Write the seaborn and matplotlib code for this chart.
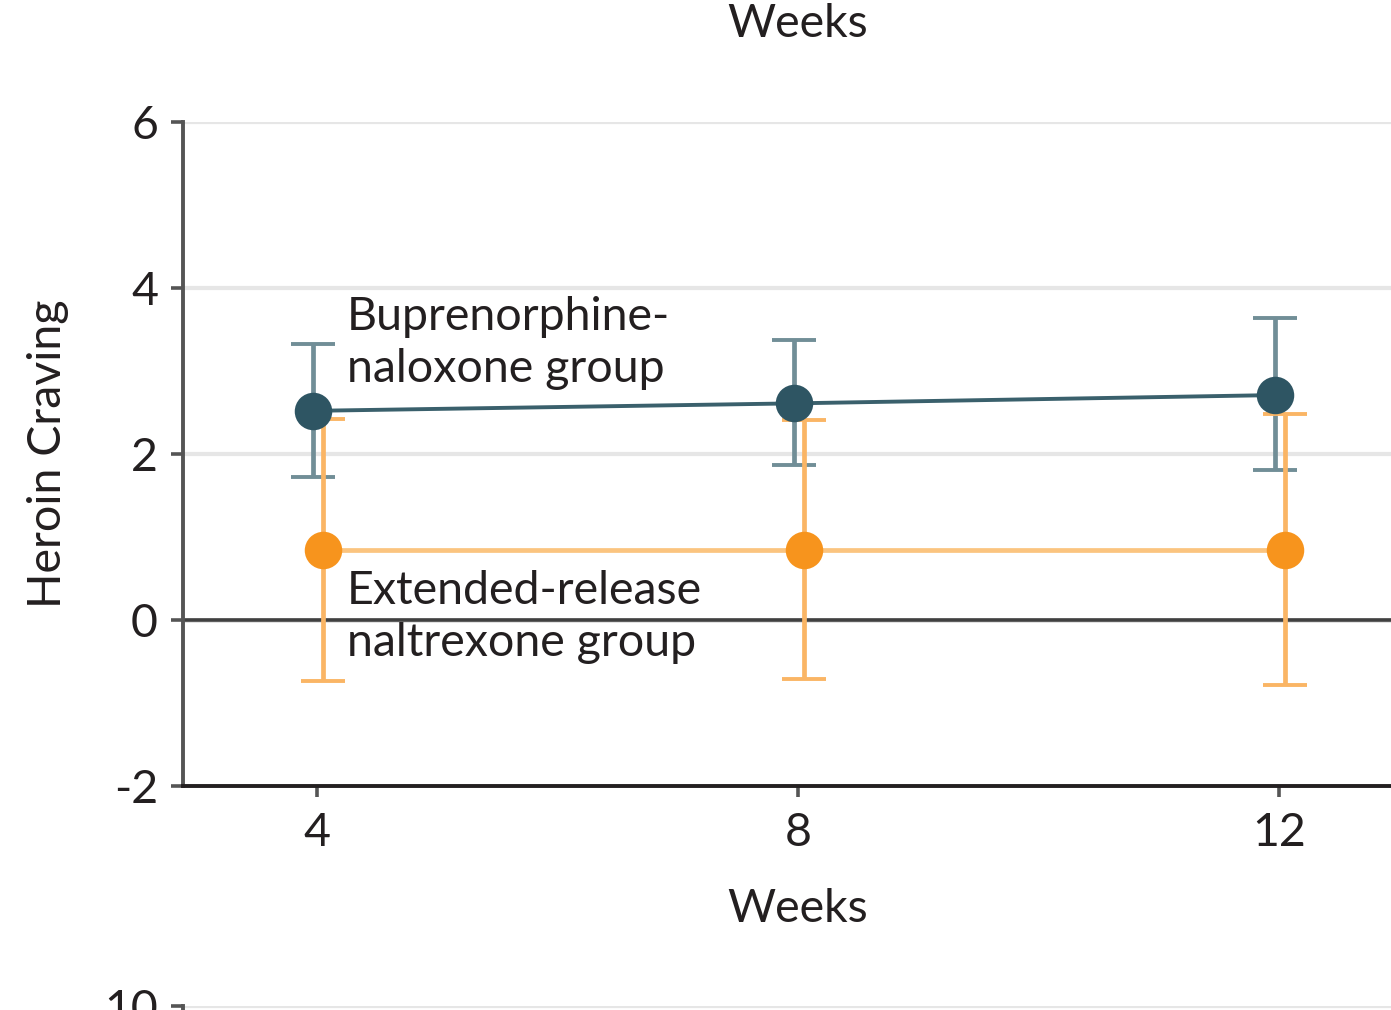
import matplotlib
matplotlib.use("Agg")
import matplotlib.pyplot as plt
import seaborn as sns
import pandas as pd
import numpy as np

# ---- data ----
weeks = [4, 8, 12]
bup_mean = [2.52, 2.61, 2.71]
bup_low = [1.72, 1.87, 1.81]
bup_high = [3.32, 3.37, 3.64]
xr_mean = [0.84, 0.84, 0.84]
xr_low = [-0.73, -0.71, -0.78]
xr_high = [2.42, 2.41, 2.48]
yticks = [-2, 0, 2, 4, 6]
group_labels = ["Buprenorphine-\nnaloxone group", "Extended-release\nnaltrexone group"]

# ---- style ----
sns.set_theme(style="white")
plt.rcParams["font.family"] = ["Lato", "DejaVu Sans"]
TXT = "#231f20"
DARK = "#2e5563"
DARK_LINE = "#3a606c"
DARK_ERR = "#718e97"
ORANGE = "#f7941d"
ORANGE_LINE = "#fbc47f"
ORANGE_ERR = "#fab565"
FS = 33.5

fig = plt.figure(figsize=(13.91, 10.10), dpi=100)
W, H = 1391, 1010
ax_left, ax_right = 183, 1413
ax_top, ax_bot = 122, 786
ax = fig.add_axes([ax_left / W, (H - ax_bot) / H, (ax_right - ax_left) / W, (ax_bot - ax_top) / H])

df = pd.DataFrame({
    "week": weeks * 2,
    "mean": bup_mean + xr_mean,
    "low": bup_low + xr_low,
    "high": bup_high + xr_high,
    "group": ["bup"] * 3 + ["xr"] * 3,
})
offsets = {"bup": -0.035, "xr": 0.05}
df["xpos"] = df["week"] + df["group"].map(offsets)

ax.set_xlim(2.886, 13.114)
ax.set_ylim(-2, 6)

# gridlines
for yv in [2, 4, 6]:
    ax.axhline(yv, color="#e6e6e6", lw=3, zorder=0)
ax.axhline(0, color="#e0e0e0", lw=3.5, zorder=0)
ax.axhline(0, color="#404040", lw=2.6, zorder=1)

# error bars
for g, ecol in [("bup", DARK_ERR), ("xr", ORANGE_ERR)]:
    d = df[df["group"] == g]
    ax.errorbar(d["xpos"], d["mean"],
                yerr=[d["mean"] - d["low"], d["high"] - d["mean"]],
                fmt="none", ecolor=ecol, elinewidth=3.4, capsize=16, capthick=2.8, zorder=2)

# lines + markers
d = df[df["group"] == "bup"]
sns.lineplot(data=d, x="xpos", y="mean", ax=ax, color=DARK_LINE, lw=2.8, zorder=3,
             marker="o", markersize=27, markerfacecolor=DARK, markeredgewidth=0, estimator=None)
d = df[df["group"] == "xr"]
sns.lineplot(data=d, x="xpos", y="mean", ax=ax, color=ORANGE_LINE, lw=3.4, zorder=3,
             marker="o", markersize=27, markerfacecolor=ORANGE, markeredgewidth=0, estimator=None)

# labels
ax.text(4.25, 3.9, group_labels[0], fontsize=FS, color=TXT, va="top", ha="left", linespacing=1.3)
ax.text(4.25, 0.6, group_labels[1], fontsize=FS, color=TXT, va="top", ha="left", linespacing=1.3)

ax.set_xticks(weeks)
ax.set_xticklabels([str(w) for w in weeks])
ax.set_yticks(yticks)
ax.set_yticklabels([str(v) for v in yticks])
ax.tick_params(axis="y", direction="out", length=9, width=2.6, color="#555555",
               labelsize=FS, labelcolor=TXT, pad=9, left=True)
ax.tick_params(axis="x", direction="out", length=8, width=2.6, color="#555555",
               labelsize=FS, labelcolor=TXT, pad=11, bottom=True)
ax.set_xlabel("Weeks", fontsize=FS, color=TXT, labelpad=24)
ax.set_ylabel("Heroin Craving", fontsize=FS, color=TXT, labelpad=32)

for s in ["top", "right"]:
    ax.spines[s].set_visible(False)
ax.spines["left"].set_color("#555555")
ax.spines["left"].set_linewidth(2.8)
ax.spines["bottom"].set_color(TXT)
ax.spines["bottom"].set_linewidth(2.8)

# fragments of neighbouring panels (cropped)
fig.text(798 / W, 1 - 37 / H, "Weeks", fontsize=FS, color=TXT, ha="center", va="baseline")
ax2 = fig.add_axes([ax_left / W, (H - 1006) / H - 0.3, (ax_right - ax_left) / W, 0.3])
ax2.set_ylim(0, 10)
ax2.set_xlim(0, 1)
ax2.set_yticks([10])
ax2.set_yticklabels(["10"])
ax2.set_xticks([])
ax2.axhline(10, color="#e6e6e6", lw=3, zorder=0)
ax2.tick_params(axis="y", direction="out", length=9, width=2.6, color="#555555",
                labelsize=FS, labelcolor=TXT, pad=9, left=True)
for s in ["top", "right", "bottom"]:
    ax2.spines[s].set_visible(False)
ax2.spines["left"].set_color("#555555")
ax2.spines["left"].set_linewidth(2.8)
ax2.patch.set_alpha(0)

fig.savefig("out.png", dpi=100)
